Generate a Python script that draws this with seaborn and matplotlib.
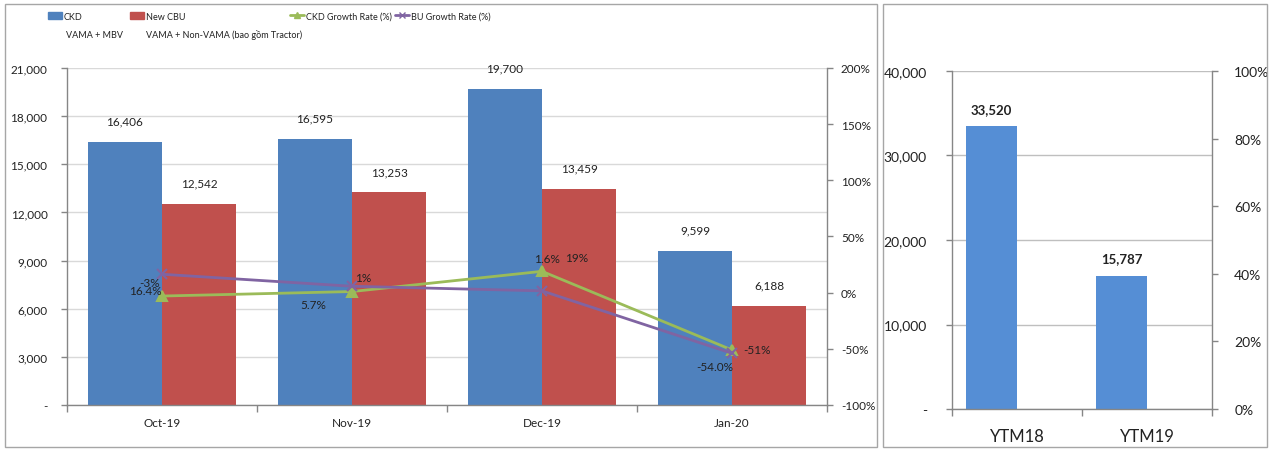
import matplotlib
matplotlib.use("Agg")
import matplotlib.pyplot as plt
import seaborn as sns
import pandas as pd
from matplotlib.ticker import MultipleLocator, FixedLocator, FuncFormatter
from matplotlib.patches import Rectangle, Patch
from matplotlib.lines import Line2D
from matplotlib import font_manager

# data
months = ["Oct-19", "Nov-19", "Dec-19", "Jan-20"]
ckd_units = [16406, 16595, 19700, 9599]
cbu_units = [12542, 13253, 13459, 6188]
ckd_growth = [-3, 1, 19, -51]
bu_growth = [16.4, 5.7, 1.6, -54.0]
ckd_growth_labels = ["-3%", "1%", "19%", "-51%"]
bu_growth_labels = ["16.4%", "5.7%", "1.6%", "-54.0%"]
ytm_names = ["YTM18", "YTM19"]
ytm_units = [33520, 15787]

series_names = ["CKD", "New CBU"]
series_sub = ["VAMA + MBV", "VAMA + Non-VAMA (bao gồm Tractor)"]
line_names = ["CKD Growth Rate (%)", "BU Growth Rate (%)"]

BLUE = "#4F81BD"
RED = "#C0504D"
GREEN = "#9BBB59"
PURPLE = "#8064A2"
BLUE2 = "#558ED5"
GRID = "#D9D9D9"
SPINE = "#868686"
TXT = "#222222"

sns.set_theme(style="white")
plt.rcParams["font.family"] = ["Lato", "DejaVu Sans"]
plt.rcParams["text.color"] = TXT
plt.rcParams["xtick.color"] = SPINE
plt.rcParams["ytick.color"] = SPINE
plt.rcParams["xtick.labelcolor"] = TXT
plt.rcParams["ytick.labelcolor"] = TXT

installed = {f.name for f in font_manager.fontManager.ttflist}
NARROW = ["Liberation Sans Narrow", "Lato", "DejaVu Sans"]
NARROW = [n for n in NARROW if n in installed]
LEG_SIZE = 8 if NARROW[0] == "Liberation Sans Narrow" else 6.5

fig = plt.figure(figsize=(12.73, 4.52), dpi=100)

# panel frames
fig.patches.append(Rectangle((5 / 1273, 4 / 452), 872 / 1273, 443 / 452,
                             transform=fig.transFigure, fill=False,
                             edgecolor="#A6A6A6", lw=1))
fig.patches.append(Rectangle((883 / 1273, 4 / 452), 384 / 1273, 443 / 452,
                             transform=fig.transFigure, fill=False,
                             edgecolor="#A6A6A6", lw=1))


def thousands(v, pos):
    return "-" if v == 0 else f"{v:,.0f}"


def style_axes(a, a2):
    a.grid(axis="y", color=GRID, lw=1)
    a.set_axisbelow(True)
    a.spines["top"].set_visible(False)
    a2.spines["top"].set_visible(False)
    for s in ["left", "bottom"]:
        a.spines[s].set_color(SPINE)
        a.spines[s].set_linewidth(1)
    a.spines["right"].set_visible(False)
    a2.spines["left"].set_visible(False)
    a2.spines["bottom"].set_visible(False)
    a2.spines["right"].set_color(SPINE)
    a2.spines["right"].set_linewidth(1)
    for b in (a, a2):
        b.set_xlabel("")
        b.set_ylabel("")


# ---------------- left chart ----------------
ax = fig.add_axes([67 / 1273, 1 - 406 / 452, 760 / 1273, 337 / 452])
df = pd.DataFrame({
    "month": months * 2,
    "series": [series_names[0]] * 4 + [series_names[1]] * 4,
    "units": ckd_units + cbu_units,
})
sns.barplot(data=df, x="month", y="units", hue="series", order=months,
            hue_order=series_names, palette=[BLUE, RED], width=0.78,
            saturation=1, linewidth=0, errorbar=None, legend=False, ax=ax)

ax2 = ax.twinx()
sns.pointplot(x=months, y=ckd_growth, order=months, color=GREEN, markers="^",
              markersize=7, linewidth=2, errorbar=None, ax=ax2)
sns.pointplot(x=months, y=bu_growth, order=months, color=PURPLE, markers="x",
              markersize=7, linewidth=2, errorbar=None, ax=ax2)

ax.set_ylim(0, 21000)
ax.yaxis.set_major_locator(MultipleLocator(3000))
ax.yaxis.set_major_formatter(FuncFormatter(thousands))
ax2.set_ylim(-100, 200)
ax2.yaxis.set_major_locator(MultipleLocator(50))
ax2.yaxis.set_major_formatter(FuncFormatter(lambda v, p: f"{v:.0f}%"))
ax.set_xlim(-0.5, 3.5)
ax2.set_xlim(-0.5, 3.5)
style_axes(ax, ax2)

ax.xaxis.set_minor_locator(FixedLocator([-0.5, 0.5, 1.5, 2.5, 3.5]))
ax.tick_params(axis="x", which="major", length=0, pad=9, labelsize=8.5)
ax.tick_params(axis="x", which="minor", length=5, width=1, color=SPINE, bottom=True)
ax.tick_params(axis="y", length=4, width=1, pad=10, labelsize=8.5, left=True)
ax2.tick_params(axis="y", length=4, width=1, pad=6, labelsize=8.5, right=True)

# bar value labels
for cont in ax.containers:
    ax.bar_label(cont, labels=[f"{h.get_height():,.0f}" for h in cont],
                 padding=11, fontsize=8.5, color=TXT)

# growth rate labels (offsets in pixels, matching the source placement)
ckd_off = [(-12, 14), (11, 14), (35, 14), (25, 0)]
bu_off = [(-17, -16), (-39, -18), (5, 32), (-17, -13)]
for i in range(4):
    ax2.annotate(ckd_growth_labels[i], (i, ckd_growth[i]), xytext=ckd_off[i],
                 textcoords="offset pixels", ha="center", va="center",
                 fontsize=8.5, color=TXT)
    ax2.annotate(bu_growth_labels[i], (i, bu_growth[i]), xytext=bu_off[i],
                 textcoords="offset pixels", ha="center", va="center",
                 fontsize=8.5, color=TXT)

# legend: one entry per slot, as in the source layout
handles = [Patch(color=BLUE), Patch(color=RED),
           Line2D([], [], color=GREEN, lw=2, marker="^", ms=5),
           Line2D([], [], color=PURPLE, lw=2, marker="x", ms=5)]
labels = series_names + line_names
slot_x = [48, 130, 290, 395]
for h, lab, x in zip(handles, labels, slot_x):
    fig.legend([h], [lab], loc="center left",
               bbox_to_anchor=(x / 1273, 1 - 17 / 452), frameon=False,
               prop={"family": NARROW, "size": LEG_SIZE}, handlelength=1.5,
               handletextpad=0.25, borderpad=0, borderaxespad=0)
for sub, x in zip(series_sub, [66, 146]):
    fig.text(x / 1273, 1 - 35 / 452, sub, ha="left", va="center",
             family=NARROW, fontsize=LEG_SIZE)

# ---------------- right chart ----------------
ax3 = fig.add_axes([952 / 1273, 1 - 410 / 452, 260 / 1273, 338 / 452])
ytm_df = pd.DataFrame({"period": ytm_names, "series": ["Units"] * 2,
                       "units": ytm_units})
# second (empty) series keeps the dodge slot the source chart reserves
sns.barplot(data=ytm_df, x="period", y="units", hue="series",
            hue_order=["Units", "Share"], palette=[BLUE2, BLUE2], width=0.78,
            dodge=True, saturation=1, linewidth=0, errorbar=None,
            legend=False, ax=ax3)
ax4 = ax3.twinx()
ax3.set_ylim(0, 40000)
ax3.yaxis.set_major_locator(MultipleLocator(10000))
ax3.yaxis.set_major_formatter(FuncFormatter(thousands))
ax4.set_ylim(0, 1)
ax4.yaxis.set_major_locator(MultipleLocator(0.2))
ax4.yaxis.set_major_formatter(FuncFormatter(lambda v, p: f"{v * 100:.0f}%"))
ax3.set_xlim(-0.5, 1.5)
style_axes(ax3, ax4)
ax3.grid(axis="y", color="#BFBFBF", lw=1)

ax3.xaxis.set_minor_locator(FixedLocator([-0.5, 0.5, 1.5]))
ax3.tick_params(axis="x", which="major", length=0, pad=14, labelsize=12)
ax3.tick_params(axis="x", which="minor", length=5, width=1, color=SPINE, bottom=True)
ax3.tick_params(axis="y", length=4, width=1, pad=14, labelsize=10, left=True)
ax4.tick_params(axis="y", length=4, width=1, pad=12, labelsize=10, right=True)

for cont in ax3.containers:
    ax3.bar_label(cont, labels=[f"{h.get_height():,.0f}" for h in cont],
                  padding=8, fontsize=9.5, fontweight="bold", color=TXT)

fig.savefig("out.png", dpi=100)
